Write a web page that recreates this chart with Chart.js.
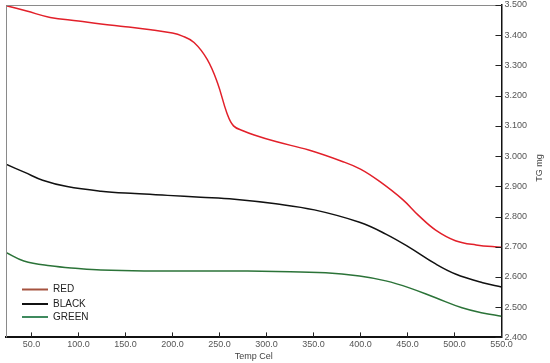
<!DOCTYPE html>
<html>
<head>
<meta charset="utf-8">
<script src="https://cdn.jsdelivr.net/npm/chart.js@4"></script>
<style>
  html, body { margin: 0; padding: 0; background: #fff; }
  #wrap { width: 550px; height: 363px; }
</style>
</head>
<body>
<div id="wrap"><canvas id="c" width="550" height="363"></canvas></div>
<script>
// TG curves, temperature (Cel) vs mass (mg)
const redTemp = [23, 45, 70, 100, 124, 150, 177, 200, 210, 223, 237, 248, 258, 265, 275, 287, 310, 345, 380, 400, 420, 445, 462, 480, 501, 523, 550];
const redMass = [3.498, 3.480, 3.459, 3.447, 3.437, 3.428, 3.418, 3.407, 3.398, 3.376, 3.320, 3.242, 3.142, 3.100, 3.084, 3.070, 3.048, 3.020, 2.983, 2.957, 2.917, 2.856, 2.803, 2.755, 2.720, 2.706, 2.698];

const blackTemp = [23, 43, 62, 88, 124, 160, 195, 230, 266, 310, 351, 399, 427, 452, 480, 501, 530, 550];
const blackMass = [2.973, 2.946, 2.920, 2.899, 2.884, 2.876, 2.870, 2.864, 2.857, 2.842, 2.822, 2.781, 2.742, 2.698, 2.643, 2.610, 2.581, 2.567];

const greenTemp = [23, 42, 70, 100, 124, 170, 250, 310, 363, 399, 427, 452, 480, 508, 530, 550];
const greenMass = [2.681, 2.653, 2.637, 2.628, 2.623, 2.620, 2.620, 2.618, 2.614, 2.603, 2.587, 2.564, 2.531, 2.498, 2.481, 2.470];

const seriesNames = ['RED', 'BLACK', 'GREEN'];
const seriesColors = ['#e2202a', '#111111', '#2b7338'];
const legendColors = ['#a5523f', '#111111', '#3f8a5e'];

const xTicks = [50, 100, 150, 200, 250, 300, 350, 400, 450, 500, 550];
const yTicks = [2.4, 2.5, 2.6, 2.7, 2.8, 2.9, 3.0, 3.1, 3.2, 3.3, 3.4, 3.5];

const toPoints = (xs, ys) => xs.map((x, i) => ({ x: x, y: ys[i] }));

// 坐标框、内向刻度、图例和纵轴标题
const decorPlugin = {
  id: 'decor',
  afterDraw(chart) {
    const ctx = chart.ctx;
    const a = chart.chartArea;
    const xs = chart.scales.x;
    const ys = chart.scales.y;
    ctx.save();

    // top and left frame lines
    ctx.strokeStyle = '#8a8a8a';
    ctx.lineWidth = 1;
    ctx.beginPath();
    ctx.moveTo(a.left + 0.5, a.bottom);
    ctx.lineTo(a.left + 0.5, a.top + 0.5);
    ctx.lineTo(a.right, a.top + 0.5);
    ctx.stroke();

    // inward ticks
    ctx.strokeStyle = '#222';
    ctx.beginPath();
    xTicks.forEach(v => {
      const px = Math.round(xs.getPixelForValue(v)) + 0.5;
      ctx.moveTo(px, a.bottom);
      ctx.lineTo(px, a.bottom - 5);
    });
    yTicks.forEach(v => {
      const py = Math.round(ys.getPixelForValue(v)) + 0.5;
      ctx.moveTo(a.right, py);
      ctx.lineTo(a.right - 6, py);
    });
    ctx.stroke();

    // legend
    ctx.font = '10px "Liberation Sans", Arial, sans-serif';
    ctx.textBaseline = 'middle';
    ctx.textAlign = 'left';
    const rows = [289.5, 304, 317];
    chart.data.datasets.forEach((ds, i) => {
      ctx.strokeStyle = legendColors[i];
      ctx.lineWidth = 2;
      ctx.beginPath();
      ctx.moveTo(22, rows[i]);
      ctx.lineTo(48, rows[i]);
      ctx.stroke();
      ctx.fillStyle = '#222';
      ctx.fillText(ds.label, 53, rows[i]);
    });

    // y axis title, reads bottom to top
    ctx.translate(540, 168);
    ctx.rotate(-Math.PI / 2);
    ctx.textAlign = 'center';
    ctx.fillStyle = '#444';
    ctx.font = '9px "Liberation Sans", Arial, sans-serif';
    ctx.fillText('TG mg', 0, 0);
    ctx.restore();
  }
};

new Chart(document.getElementById('c'), {
  type: 'line',
  data: {
    datasets: [
      { label: seriesNames[0], data: toPoints(redTemp, redMass), borderColor: seriesColors[0] },
      { label: seriesNames[1], data: toPoints(blackTemp, blackMass), borderColor: seriesColors[1] },
      { label: seriesNames[2], data: toPoints(greenTemp, greenMass), borderColor: seriesColors[2] }
    ].map(d => Object.assign(d, {
      borderWidth: 1.5,
      pointRadius: 0,
      fill: false,
      tension: 0.4
    }))
  },
  options: {
    responsive: false,
    animation: false,
    layout: { padding: { left: 6, top: 5, right: 20, bottom: 1 } },
    plugins: {
      legend: { display: false },
      tooltip: { enabled: false }
    },
    scales: {
      x: {
        type: 'linear',
        min: 23,
        max: 550,
        afterBuildTicks: s => { s.ticks = xTicks.map(v => ({ value: v })); },
        grid: { drawOnChartArea: false, drawTicks: false },
        border: { color: '#111', width: 2 },
        ticks: {
          padding: 2,
          color: '#555',
          font: { family: '"Liberation Sans", Arial, sans-serif', size: 9 },
          maxRotation: 0,
          callback: v => v.toFixed(1)
        },
        title: {
          display: true,
          text: 'Temp Cel',
          color: '#444',
          font: { family: '"Liberation Sans", Arial, sans-serif', size: 9 },
          padding: { top: -1, bottom: 0 }
        }
      },
      y: {
        position: 'right',
        min: 2.4,
        max: 3.5,
        afterBuildTicks: s => { s.ticks = yTicks.map(v => ({ value: v })); },
        afterFit: s => { s.paddingTop = 0; s.paddingBottom = 0; },
        grid: { drawOnChartArea: false, drawTicks: false },
        border: { color: '#111', width: 1.5 },
        ticks: {
          padding: 3,
          color: '#555',
          font: { family: '"Liberation Sans", Arial, sans-serif', size: 9 },
          callback: v => v.toFixed(3)
        }
      }
    }
  },
  plugins: [decorPlugin]
});
</script>
</body>
</html>
